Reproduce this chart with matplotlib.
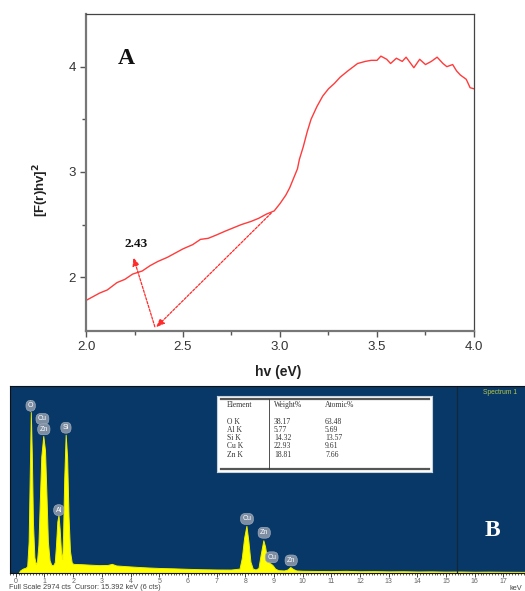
import numpy as np
import matplotlib
matplotlib.use('Agg')
import matplotlib.pyplot as plt
from matplotlib.ticker import MultipleLocator, FixedLocator

# panel A: band gap plot, [F(r)hv]^2 vs hv
hv = [2.00, 2.04, 2.07, 2.11, 2.16, 2.20, 2.24, 2.29, 2.33, 2.37, 2.42, 2.46,
      2.50, 2.55, 2.59, 2.63, 2.67, 2.72, 2.76, 2.80, 2.85, 2.89, 2.93, 2.97,
      3.00, 3.03, 3.05, 3.07, 3.09, 3.10, 3.12, 3.14, 3.16, 3.19, 3.22, 3.25,
      3.28, 3.31, 3.35, 3.40, 3.44, 3.47, 3.50, 3.52, 3.55, 3.57, 3.60, 3.63,
      3.65, 3.67, 3.69, 3.72, 3.75, 3.78, 3.81, 3.84, 3.86, 3.89, 3.91, 3.93,
      3.96, 3.98, 4.00]
fr = [1.78, 1.82, 1.85, 1.88, 1.95, 1.98, 2.03, 2.06, 2.11, 2.15, 2.19, 2.23,
      2.27, 2.31, 2.36, 2.37, 2.40, 2.44, 2.47, 2.50, 2.53, 2.56, 2.60, 2.63,
      2.70, 2.78, 2.85, 2.94, 3.03, 3.12, 3.24, 3.38, 3.50, 3.62, 3.72, 3.79,
      3.84, 3.90, 3.96, 4.03, 4.05, 4.06, 4.06, 4.10, 4.07, 4.03, 4.08, 4.05,
      4.09, 4.04, 3.99, 4.07, 4.02, 4.05, 4.09, 4.03, 4.00, 4.02, 3.96, 3.92,
      3.88, 3.80, 3.79]

# panel B: EDS spectrum (keV, counts)
energy = [-0.2, 0.10, 0.15, 0.25, 0.35, 0.40, 0.45, 0.49, 0.525, 0.56, 0.60,
          0.65, 0.70, 0.74, 0.79, 0.84, 0.89, 0.96, 1.02, 1.07, 1.12, 1.18,
          1.24, 1.30, 1.36, 1.40, 1.45, 1.49, 1.53, 1.58, 1.62, 1.65, 1.69,
          1.74, 1.79, 1.84, 1.89, 1.95, 2.0, 2.3, 2.6, 2.9, 3.2, 3.35, 3.5,
          3.8, 4.2, 4.6, 5.0, 5.5, 6.0, 6.5, 7.0, 7.5, 7.8, 7.88, 7.96, 8.04,
          8.11, 8.18, 8.26, 8.36, 8.46, 8.54, 8.63, 8.69, 8.76, 8.84, 8.90,
          8.96, 9.04, 9.15, 9.35, 9.47, 9.57, 9.66, 9.78, 10.0, 10.5, 11.0,
          11.5, 12.0, 12.5, 13.0, 13.5, 14.0, 14.5, 15.0, 15.5, 16.0, 16.5,
          17.0, 17.75]
counts = [0, 0, 40, 70, 85, 110, 500, 1600, 2560, 1900, 800,
          250, 140, 180, 450, 1150, 1850, 2180, 1950, 1250, 500, 200,
          130, 120, 170, 420, 820, 920, 700, 320, 220, 600, 1500,
          2200, 1850, 900, 350, 170, 145, 140, 132, 125, 128, 145, 120,
          110, 98, 88, 80, 74, 66, 60, 56, 55, 70, 240, 560, 750,
          500, 180, 70, 55, 80, 300, 520, 420, 220, 160, 145,
          120, 70, 45, 40, 55, 95, 65, 40, 35, 32, 30,
          34, 28, 30, 26, 28, 24, 26, 22, 24, 20, 22,
          20, 18]

peak_names = ['O', 'Cu', 'Zn', 'Si', 'Al', 'Cu', 'Zn', 'Cu', 'Zn']
peak_keV = [0.52, 0.93, 0.98, 1.75, 1.50, 8.06, 8.66, 8.92, 9.60]
peak_lab_y = [2660, 2450, 2285, 2310, 1000, 860, 640, 250, 200]

elements = ['O K', 'Al K', 'Si K', 'Cu K', 'Zn K']
weight_pct = ['38.17', '5.77', '14.32', '22.93', '18.81']
atomic_pct = ['63.48', '5.69', '13.57', '9.61', '7.66']

W, H = 525, 591
fig = plt.figure(figsize=(W / 100, H / 100), dpi=100)
fig.patch.set_facecolor('white')

sans = 'Liberation Sans'
serif = 'Liberation Serif'


def fx(px):
    return px / W


def fy(py):
    return 1 - py / H


# ---------------- panel A ----------------
ax1 = fig.add_axes([fx(86), fy(331), fx(474) - fx(86), fy(14) - fy(331)])
ax1.plot(hv, fr, color='#ff3b3b', lw=1.0)
ax1.set_xlim(2.0, 4.0)
ax1.set_ylim(1.49, 4.5)
ax1.xaxis.set_major_locator(MultipleLocator(0.5))
ax1.xaxis.set_minor_locator(MultipleLocator(0.25))
ax1.yaxis.set_major_locator(FixedLocator([2, 3, 4]))
ax1.yaxis.set_minor_locator(FixedLocator([2.5, 3.5]))
ax1.xaxis.set_major_formatter(plt.FormatStrFormatter('%.1f'))
ax1.tick_params(which='both', direction='out', colors='#555555',
                labelcolor='#333333', labelsize=9.5, width=1.0)
ax1.tick_params(which='major', length=4)
ax1.tick_params(which='minor', length=3)
for lab in ax1.get_xticklabels() + ax1.get_yticklabels():
    lab.set_fontfamily(sans)
for s in ['left', 'bottom']:
    ax1.spines[s].set_color('#777777')
    ax1.spines[s].set_linewidth(1.6)
for s in ['top', 'right']:
    ax1.spines[s].set_color('#444444')
    ax1.spines[s].set_linewidth(0.9)

ax1.set_xlabel('hv (eV)', fontfamily=sans, fontweight='bold', fontsize=10,
               color='#222222')
ax1.xaxis.set_label_coords(0.495, -0.107)
ax1.set_ylabel('[F(r)hv]$^\\mathbf{2}$', fontfamily=sans, fontweight='bold',
               fontsize=9.5, color='#222222')
ax1.yaxis.set_label_coords(-0.09, 0.445)

arrow_kw = dict(arrowstyle='-|>,head_length=0.5,head_width=0.2',
                color='#ff2a2a', lw=0.9, linestyle=(0, (2, 1.2)),
                shrinkA=0, shrinkB=0)
ax1.annotate('', xy=(2.361, 1.525), xytext=(2.955, 2.61), arrowprops=arrow_kw)
ax1.annotate('', xy=(2.244, 2.19), xytext=(2.355, 1.53), arrowprops=arrow_kw)
ax1.text(2.258, 2.32, '2.43', fontfamily=serif, fontweight='bold',
         fontsize=9.5, ha='center', va='center', color='#111111')
ax1.text(2.21, 4.08, 'A', fontfamily=serif, fontweight='bold',
         fontsize=17, ha='center', va='center', color='#111111')

# ---------------- panel B ----------------
ax2 = fig.add_axes([fx(10), fy(573), 1 - fx(10), fy(386) - fy(573)])
ax2.set_facecolor('#073868')
ax2.fill_between(energy, counts, 0, color='#ffff00', lw=0.7,
                 edgecolor='#eeee00')
ax2.set_xlim(-0.2, 17.75)
ax2.set_ylim(0, 2974)
ax2.axvline(15.392, color='#14263a', lw=0.9)
ax2.xaxis.set_major_locator(MultipleLocator(1))
ax2.xaxis.set_minor_locator(MultipleLocator(0.1))
ax2.set_yticks([])
ax2.tick_params(axis='x', which='both', direction='out', colors='#222222',
                labelcolor='#666666', labelsize=5, pad=0.5)
ax2.tick_params(axis='x', which='major', length=3, width=0.6)
ax2.tick_params(axis='x', which='minor', length=1.5, width=0.5)
for lab in ax2.get_xticklabels():
    lab.set_fontfamily(sans)
for s in ax2.spines.values():
    s.set_color('#111111')
    s.set_linewidth(0.8)
ax2.spines['right'].set_visible(False)

for name, x, y in zip(peak_names, peak_keV, peak_lab_y):
    ax2.text(x, y, name, fontfamily=sans, fontsize=5, color='white',
             ha='center', va='center',
             bbox=dict(boxstyle='round,pad=0.28,rounding_size=0.7',
                       fc='#7e8ea2', ec='#aab4c0', lw=0.4))

ax2.text(16.3, 2870, 'Spectrum 1', fontfamily=sans, fontsize=4.8,
         color='#b9c845', ha='left', va='center')
ax2.text(16.6, 680, 'B', fontfamily=serif, fontweight='bold', fontsize=17,
         color='white', ha='center', va='center')

# composition table
axt = fig.add_axes([fx(217), fy(472), fx(432) - fx(217), fy(396) - fy(472)])
axt.set_xlim(217, 432)
axt.set_ylim(472, 396)
axt.set_xticks([])
axt.set_yticks([])
axt.set_facecolor('white')
for s in axt.spines.values():
    s.set_color('#c8d0da')
    s.set_linewidth(0.8)
axt.plot([221, 429], [398.8, 398.8], color='#555555', lw=1.6)
axt.plot([221, 429], [469.2, 469.2], color='#555555', lw=1.6)
axt.plot([269, 269], [398.8, 469.2], color='#333333', lw=0.6)
col_x = [227, 274, 325]
head_kw = dict(fontfamily=serif, fontsize=5.5, color='#333333', va='center')
axt.text(col_x[0], 404.5, 'Element', **head_kw)
axt.text(col_x[1], 404.5, 'Weight%', **head_kw)
axt.text(col_x[2], 404.5, 'Atomic%', **head_kw)
row_y = [421.5, 429.6, 437.8, 446.0, 454.5]
for el, w, a, y in zip(elements, weight_pct, atomic_pct, row_y):
    axt.text(col_x[0], y, el, **head_kw)
    axt.text(col_x[1], y, w, **head_kw)
    axt.text(col_x[2], y, a, **head_kw)

fig.text(fx(9), fy(587.5), 'Full Scale 2974 cts  Cursor: 15.392 keV (6 cts)',
         fontfamily=sans, fontsize=5.3, color='#444444', ha='left',
         va='center')
fig.text(fx(510), fy(588), 'keV', fontfamily=sans, fontsize=5.3,
         color='#444444', ha='left', va='center')

fig.savefig('out.png', dpi=100)
